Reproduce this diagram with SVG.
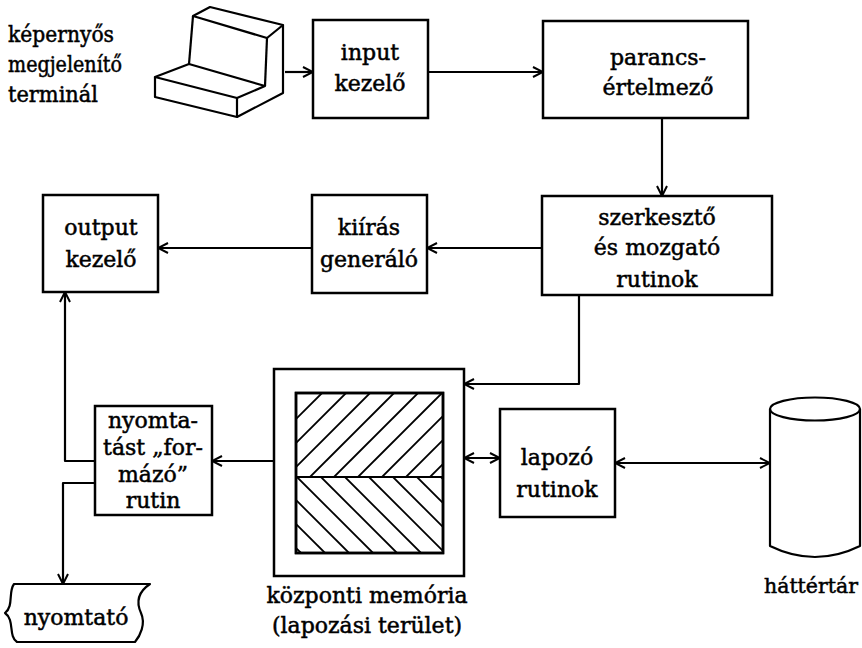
<svg xmlns="http://www.w3.org/2000/svg" width="862" height="648" viewBox="0 0 862 648">
  <style>
    .box { fill: #fff; stroke: #000; stroke-width: 2.5; }
    .edge { fill: none; stroke: #000; stroke-width: 2.2; stroke-linejoin: round; }
    .hatch { stroke: #000; stroke-width: 1.8; }
    .lbl { font-family: "DejaVu Serif", "Liberation Serif", serif; font-size: 22px; fill: #000; stroke: #000; stroke-width: 0.5; text-anchor: middle; }
    .lft { text-anchor: start; font-size: 21.5px; }
  </style>
  <defs>
    <marker id="arr" viewBox="0 0 12 12" refX="11" refY="6" markerWidth="12" markerHeight="12" markerUnits="userSpaceOnUse" orient="auto-start-reverse">
      <path d="M1,1 L11,6 L1,11" fill="none" stroke="#000" stroke-width="2"/>
    </marker>
    <clipPath id="topHalf"><rect x="296" y="393" width="147" height="84"/></clipPath>
    <clipPath id="botHalf"><rect x="296" y="477" width="147" height="76"/></clipPath>
  </defs>

  <rect width="862" height="648" fill="#fff"/>

  <!-- display terminal -->
  <g id="terminal">
    <g class="edge" stroke-width="2.6">
      <polygon points="210,7 283,25 267,38 193,16"/>
      <polyline points="193,16 189,64"/>
      <polyline points="267,38 265,86"/>
      <polyline points="283,25 283,93 237,117"/>
      <polyline points="189,64 155,77 237,98 265,86 189,64"/>
      <polyline points="155,77 155,97 237,117 237,98"/>
    </g>
    <text class="lbl lft" x="8" y="42" textLength="106" lengthAdjust="spacingAndGlyphs">képernyős</text>
    <text class="lbl lft" x="8" y="72" textLength="114" lengthAdjust="spacingAndGlyphs">megjelenítő</text>
    <text class="lbl lft" x="8" y="102" textLength="90" lengthAdjust="spacingAndGlyphs">terminál</text>
  </g>

  <g id="input">
    <rect class="box" x="313" y="20" width="115" height="98"/>
    <text class="lbl" x="370" y="60">input</text>
    <text class="lbl" x="370" y="91">kezelő</text>
  </g>

  <g id="parser">
    <rect class="box" x="543" y="21" width="205" height="97"/>
    <text class="lbl" x="658" y="65">parancs-</text>
    <text class="lbl" x="658" y="95">értelmező</text>
  </g>

  <g id="editor">
    <rect class="box" x="542" y="196" width="230" height="99"/>
    <text class="lbl" x="657" y="225">szerkesztő</text>
    <text class="lbl" x="657" y="255">és mozgató</text>
    <text class="lbl" x="657" y="287">rutinok</text>
  </g>

  <g id="writer">
    <rect class="box" x="312" y="195" width="115" height="98"/>
    <text class="lbl" x="369" y="235">kiírás</text>
    <text class="lbl" x="369" y="267">generáló</text>
  </g>

  <g id="output">
    <rect class="box" x="43" y="195" width="115" height="97"/>
    <text class="lbl" x="101" y="235">output</text>
    <text class="lbl" x="101" y="267">kezelő</text>
  </g>

  <g id="formatter">
    <rect class="box" x="95" y="406" width="117" height="109"/>
    <text class="lbl" x="153" y="428">nyomta-</text>
    <text class="lbl" x="153" y="455">tást „for-</text>
    <text class="lbl" x="153" y="482">mázó”</text>
    <text class="lbl" x="153" y="508">rutin</text>
  </g>

  <g id="memory">
    <rect class="box" x="274" y="369" width="190" height="207"/>
    <rect class="box" x="296" y="393" width="147" height="160"/>
    <g clip-path="url(#topHalf)" class="hatch">
      <line x1="238" y1="477" x2="322" y2="393"/>
      <line x1="262" y1="477" x2="346" y2="393"/>
      <line x1="286" y1="477" x2="370" y2="393"/>
      <line x1="310" y1="477" x2="394" y2="393"/>
      <line x1="334" y1="477" x2="418" y2="393"/>
      <line x1="358" y1="477" x2="442" y2="393"/>
      <line x1="382" y1="477" x2="466" y2="393"/>
      <line x1="406" y1="477" x2="490" y2="393"/>
      <line x1="430" y1="477" x2="514" y2="393"/>
    </g>
    <g clip-path="url(#botHalf)" class="hatch">
      <line x1="225" y1="477" x2="301" y2="553"/>
      <line x1="249" y1="477" x2="325" y2="553"/>
      <line x1="273" y1="477" x2="349" y2="553"/>
      <line x1="297" y1="477" x2="373" y2="553"/>
      <line x1="321" y1="477" x2="397" y2="553"/>
      <line x1="345" y1="477" x2="421" y2="553"/>
      <line x1="369" y1="477" x2="445" y2="553"/>
      <line x1="393" y1="477" x2="469" y2="553"/>
      <line x1="417" y1="477" x2="493" y2="553"/>
      <line x1="441" y1="477" x2="517" y2="553"/>
    </g>
    <line x1="296" y1="477" x2="443" y2="477" stroke="#000" stroke-width="2.2"/>
    <rect x="296" y="393" width="147" height="160" fill="none" stroke="#000" stroke-width="2.5"/>
    <text class="lbl" x="367" y="603">központi memória</text>
    <text class="lbl" x="367" y="633">(lapozási terület)</text>
  </g>

  <g id="pager">
    <rect class="box" x="500" y="409" width="115" height="108"/>
    <text class="lbl" x="557" y="465">lapozó</text>
    <text class="lbl" x="557" y="497">rutinok</text>
  </g>

  <g id="storage">
    <path class="edge" stroke-width="2.6" d="M770,409 L770,546 Q815,568 860,546 L860,409"/>
    <ellipse class="edge" stroke-width="2.6" cx="815" cy="409" rx="45" ry="11.5"/>
    <text class="lbl" x="811" y="593" style="font-size:20.5px">háttértár</text>
  </g>

  <g id="printer">
    <path class="edge" stroke-width="2.4" d="M14,584 L150,584 C138,592 136,602 141,613 C146,624 140,636 135,642 L17,642 C8,636 15,620 5,613 C14,606 8,592 14,584 Z"/>
    <text class="lbl" x="76" y="625">nyomtató</text>
  </g>

  <g id="connectors" class="edge">
    <line x1="285" y1="72" x2="313" y2="72" marker-end="url(#arr)"/>
    <line x1="428" y1="72" x2="543" y2="72" marker-end="url(#arr)"/>
    <line x1="662" y1="118" x2="662" y2="196" marker-end="url(#arr)"/>
    <line x1="542" y1="248" x2="427" y2="248" marker-end="url(#arr)"/>
    <line x1="312" y1="248" x2="158" y2="248" marker-end="url(#arr)"/>
    <polyline points="579,295 579,384 464,384" marker-end="url(#arr)"/>
    <line x1="274" y1="461" x2="212" y2="461" marker-end="url(#arr)"/>
    <polyline points="95,461 65,461 65,292" marker-end="url(#arr)"/>
    <polyline points="95,483 63,483 63,584" marker-end="url(#arr)"/>
    <line x1="464" y1="458" x2="500" y2="458" marker-start="url(#arr)" marker-end="url(#arr)"/>
    <line x1="615" y1="463" x2="770" y2="463" marker-start="url(#arr)" marker-end="url(#arr)"/>
  </g>
</svg>
